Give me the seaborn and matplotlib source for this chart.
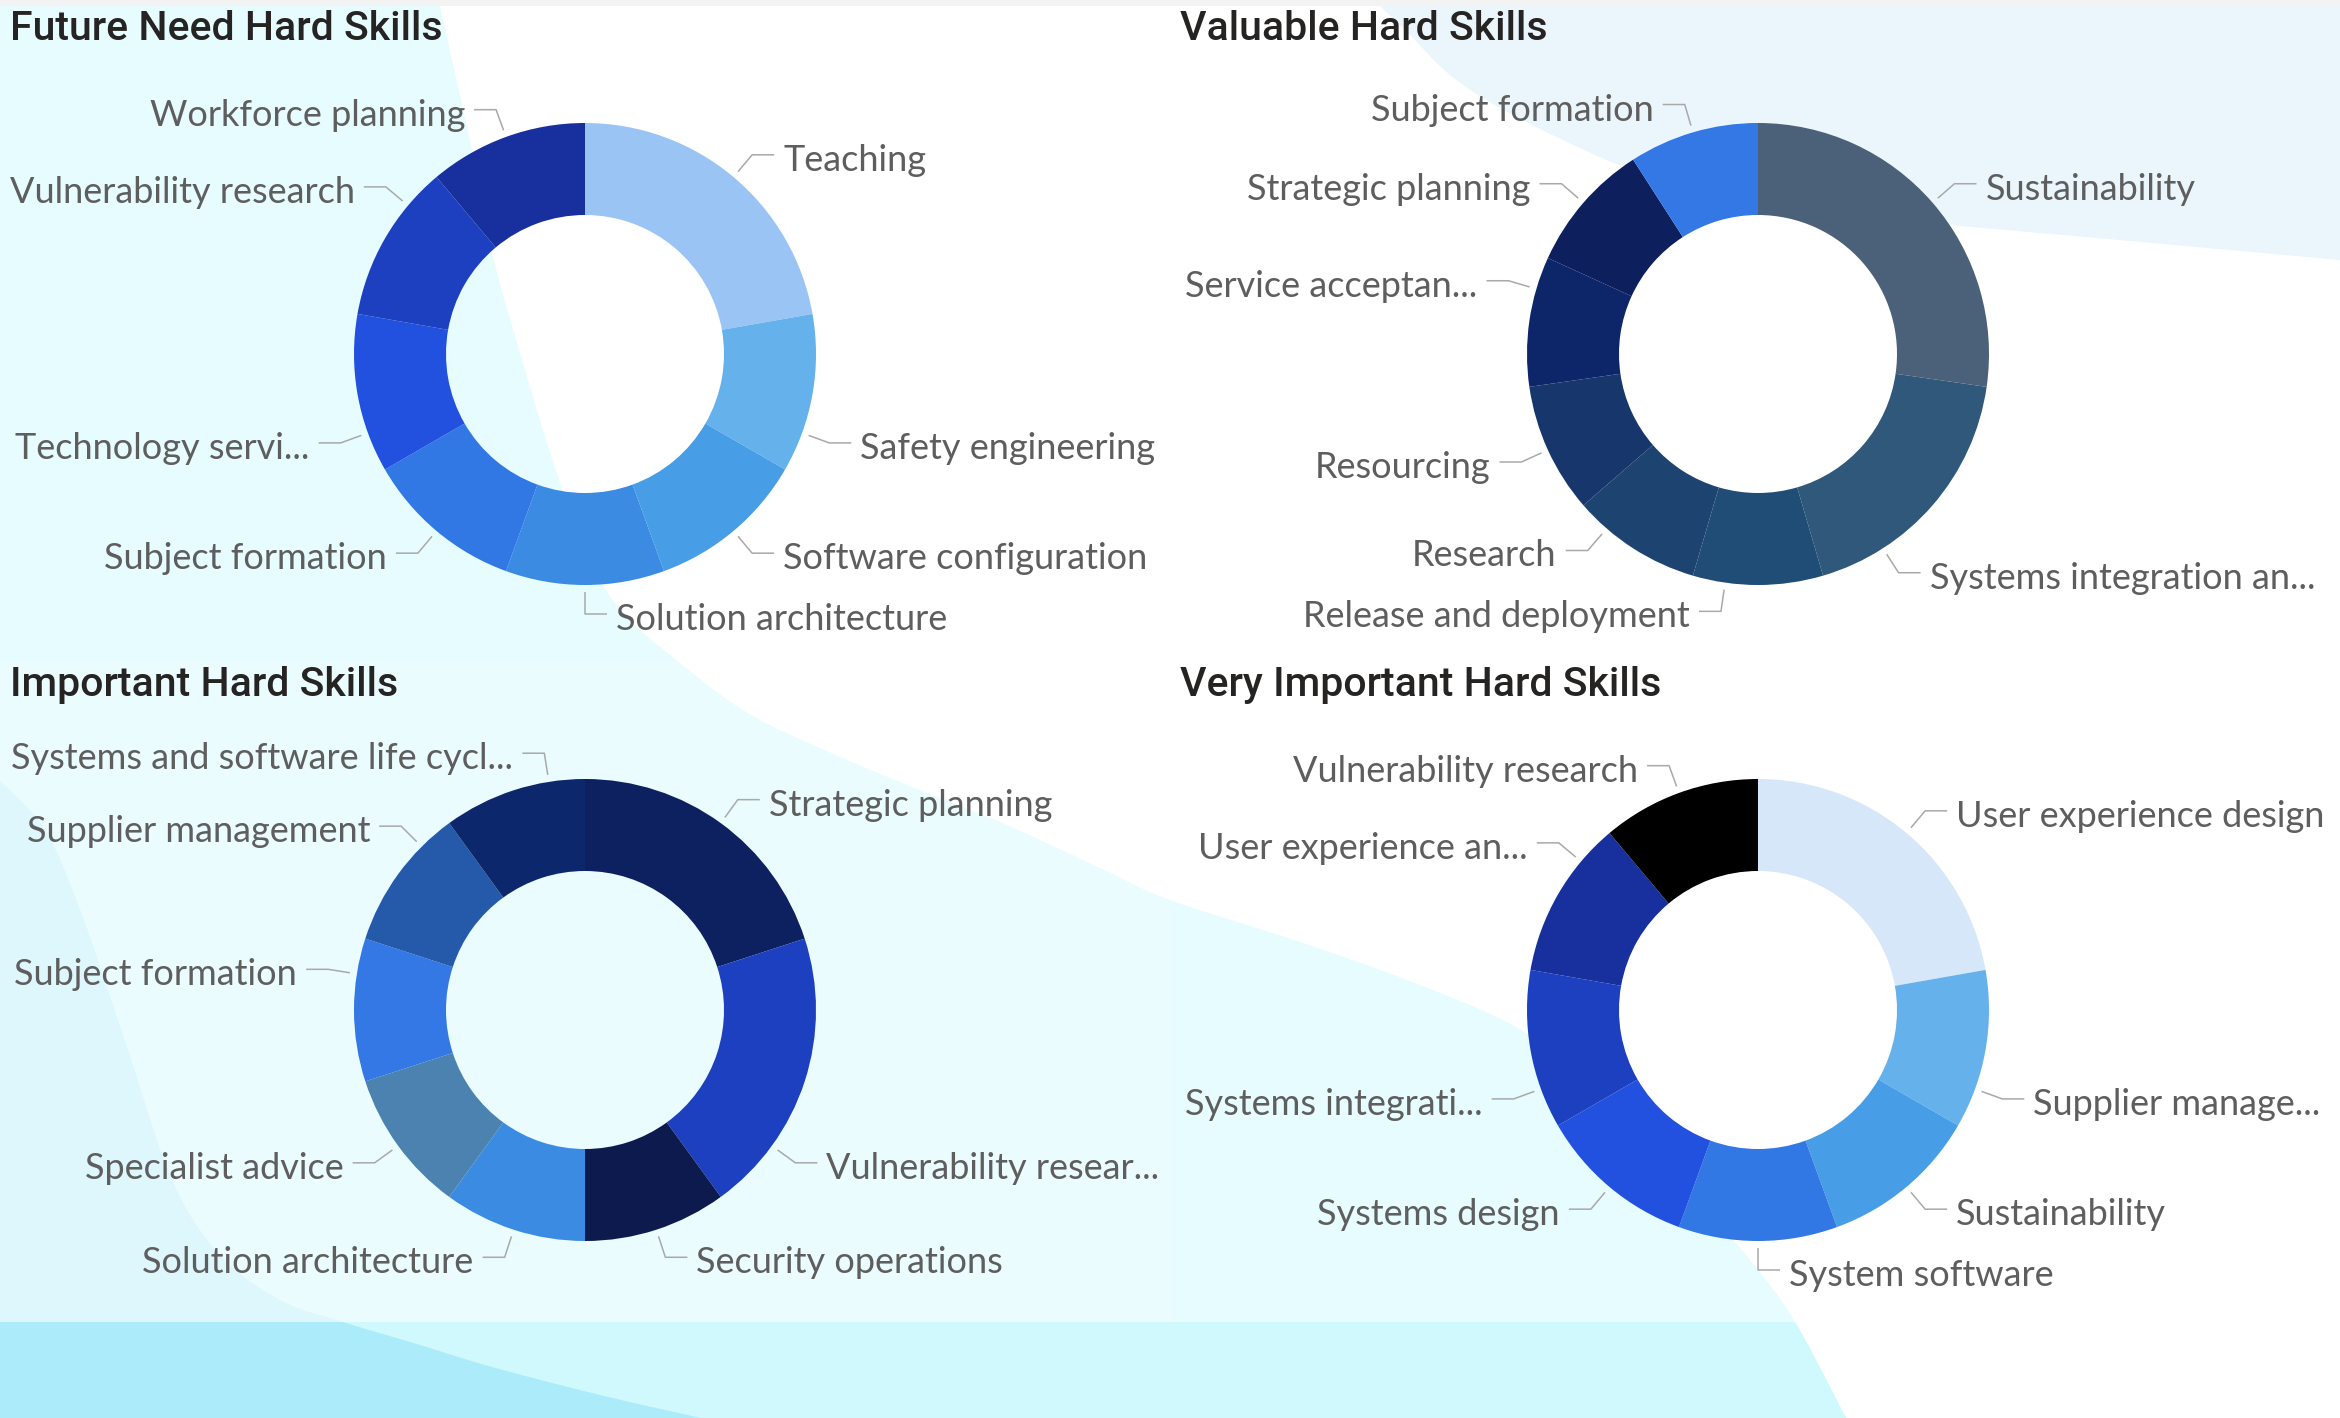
import matplotlib
matplotlib.use("Agg")
import matplotlib.pyplot as plt
import numpy as np
import seaborn as sns
from matplotlib.patches import Polygon, Rectangle

W, H = 2340, 1418

# ---------------- data ----------------
future_title = "Future Need Hard Skills"
future_labels = ["Teaching", "Safety engineering", "Software configuration",
                 "Solution architecture", "Subject formation", "Technology servi...",
                 "Vulnerability research", "Workforce planning"]
future_values = [2, 1, 1, 1, 1, 1, 1, 1]

valuable_title = "Valuable Hard Skills"
valuable_labels = ["Sustainability", "Systems integration an...", "Release and deployment",
                   "Research", "Resourcing", "Service acceptan...",
                   "Strategic planning", "Subject formation"]
valuable_values = [3, 2, 1, 1, 1, 1, 1, 1]

important_title = "Important Hard Skills"
important_labels = ["Strategic planning", "Vulnerability resear...", "Security operations",
                    "Solution architecture", "Specialist advice", "Subject formation",
                    "Supplier management", "Systems and software life cycl..."]
important_values = [2, 2, 1, 1, 1, 1, 1, 1]

very_title = "Very Important Hard Skills"
very_labels = ["User experience design", "Supplier manage...", "Sustainability",
               "System software", "Systems design", "Systems integrati...",
               "User experience an...", "Vulnerability research"]
very_values = [2, 1, 1, 1, 1, 1, 1, 1]

# ---------------- style ----------------
future_colors = ["#99C4F4", "#65B1EC", "#479DE6", "#3C8BE3", "#3278E4", "#2250DF", "#1C40BF", "#17309E"]
valuable_colors = ["#4B6079", "#30587A", "#1F4D75", "#1D4470", "#17376C", "#0D266A", "#0D1F5D", "#3378E4"]
important_colors = ["#0D2060", "#1C40BF", "#0D1A4E", "#3C8BE3", "#4B82B0", "#3378E4", "#2559AA", "#0D276C"]
very_colors = ["#D6E7F9", "#65B1EC", "#479DE6", "#3278E4", "#2250DF", "#1C40BF", "#17309E", "#000000"]

R, R_IN = 231, 139
R_START, R_ELBOW = 238, 260
LEAD, GAP, MARGIN, MIN_GAP = 22, 9, 13, 50
LABEL_PT = 26
LABEL_C = "#5E5E5E"
LINE_C = "#A9A9A9"

sns.set_theme(style="white")
plt.rcParams["font.family"] = ["Lato", "DejaVu Sans"]

fig = plt.figure(figsize=(W / 100, H / 100), dpi=100)
ax = fig.add_axes([0, 0, 1, 1])
ax.set_xlim(0, W)
ax.set_ylim(H, 0)
ax.axis("off")


def smooth(pts, n=24):
    p = np.asarray(pts, float)
    p = np.vstack([p[0], p, p[-1]])
    out = []
    t = np.linspace(0, 1, n, endpoint=False)[:, None]
    for i in range(1, len(p) - 2):
        p0, p1, p2, p3 = p[i - 1], p[i], p[i + 1], p[i + 2]
        out.append(0.5 * (2 * p1 + (-p0 + p2) * t + (2 * p0 - 5 * p1 + 4 * p2 - p3) * t ** 2
                          + (-p0 + 3 * p1 - 3 * p2 + p3) * t ** 3))
    out.append(p[-2][None])
    return np.vstack(out)


# ---------------- background ----------------
pale = smooth([(1380, 6), (1410, 35), (1450, 75), (1500, 108), (1582, 149), (1641, 172),
               (1758, 201), (1850, 214), (1940, 224), (2119, 240), (2340, 260)])
ax.add_patch(Polygon(np.vstack([pale, [(2340, 6)]]), closed=True, fc="#EAF6FC", ec="none", zorder=0))

s_curve = smooth([(440, 6), (452, 60), (472, 150), (492, 253), (525, 370), (560, 483), (595, 570),
                  (625, 615), (670, 655), (746, 712), (829, 752), (912, 787), (1000, 822),
                  (1100, 868), (1170, 900), (1300, 942), (1420, 985), (1521, 1030), (1600, 1090),
                  (1680, 1180), (1750, 1260), (1795, 1322), (1846, 1418)])
cyan = Polygon(np.vstack([s_curve, [(0, 1418), (0, 6)]]), closed=True, fc="#E6FCFE", ec="none", zorder=0.1)
ax.add_patch(cyan)

blob_pts = smooth([(0, 781), (45, 830), (82, 915), (127, 1047), (172, 1180), (220, 1255),
                   (280, 1300), (343, 1322), (420, 1345), (492, 1367), (600, 1395), (701, 1418)])
blob = Polygon(np.vstack([blob_pts, [(0, 1418)]]), closed=True, fc="#D6F6FD", ec="none", zorder=0.2)
ax.add_patch(blob)

band = Rectangle((0, 1322), W, H - 1322, fc="#CFF9FC", ec="none", zorder=0.3)
ax.add_patch(band)
band.set_clip_path(cyan)
band_dark = Rectangle((0, 1322), W, H - 1322, fc="#ABEBFA", ec="none", zorder=0.4)
ax.add_patch(band_dark)
band_dark.set_clip_path(blob)

ax.add_patch(Rectangle((0, 662), 1171, 660, fc="white", alpha=0.18, ec="none", zorder=0.5))
ax.add_patch(Rectangle((0, 0), W, 6, fc="#F3F3F3", ec="none", zorder=0.6))

# ---------------- donuts ----------------
renderer = fig.canvas.get_renderer()


def donut(cx, cy, x0, x1, title, labels, values, colors):
    ax.pie(values, colors=colors, startangle=-90, counterclock=True, radius=R,
           center=(cx, cy), frame=True,
           wedgeprops=dict(width=R - R_IN, linewidth=0, edgecolor="none"))
    ax.text(x0 + 10, cy - 314, title, fontsize=29.5, family=["Roboto", "DejaVu Sans"],
            fontweight="medium", color="#252423", ha="left", va="baseline")

    edges = np.concatenate([[0], np.cumsum(values)]) / np.sum(values) * 360
    placed = {"left": [], "right": []}
    for i, lab in enumerate(labels):
        t = ax.text(0, 0, lab, fontsize=LABEL_PT, color=LABEL_C)
        w = t.get_window_extent(renderer).width
        a0, a1 = edges[i], edges[i + 1]
        best = None
        # try the middle of the slice first, then three quarters, then one quarter
        for f in (0.5, 0.75, 0.25):
            a = a0 + f * (a1 - a0)
            side = "right" if a <= 180 else "left"
            ex = cx + R_ELBOW * np.sin(np.radians(a))
            ey = cy - R_ELBOW * np.cos(np.radians(a))
            if side == "right":
                tx = ex + LEAD + GAP
                slack = (x1 - MARGIN) - (tx + w)
            else:
                tx = ex - LEAD - GAP
                slack = (tx - w) - (x0 + MARGIN)
            clash = any(abs(ey - y) < MIN_GAP for y in placed[side])
            cand = (a, side, ex, ey, tx, slack)
            if not clash and slack >= 0:
                best = cand
                break
            if not clash and (best is None or slack > best[5]):
                best = cand
        if best is None:
            a = a0 + 0.5 * (a1 - a0)
            side = "right" if a <= 180 else "left"
            ex = cx + R_ELBOW * np.sin(np.radians(a))
            ey = cy - R_ELBOW * np.cos(np.radians(a))
            tx = ex + (LEAD + GAP) * (1 if side == "right" else -1)
            best = (a, side, ex, ey, tx, 0)
        a, side, ex, ey, tx, _ = best
        placed[side].append(ey)
        sx = cx + R_START * np.sin(np.radians(a))
        sy = cy - R_START * np.cos(np.radians(a))
        hx = ex + LEAD * (1 if side == "right" else -1)
        ax.plot([sx, ex, hx], [sy, ey, ey], color=LINE_C, lw=1.1, zorder=3,
                solid_capstyle="butt")
        t.set_position((tx, ey + 16))
        t.set_ha("left" if side == "right" else "right")
        t.set_va("baseline")
        t.set_zorder(4)


donut(585, 354, 0, 1170, future_title, future_labels, future_values, future_colors)
donut(1758, 354, 1170, 2340, valuable_title, valuable_labels, valuable_values, valuable_colors)
donut(585, 1010, 0, 1170, important_title, important_labels, important_values, important_colors)
donut(1758, 1010, 1170, 2340, very_title, very_labels, very_values, very_colors)

ax.set_aspect("auto")
ax.set_xlim(0, W)
ax.set_ylim(H, 0)
ax.set_position([0, 0, 1, 1])
ax.axis("off")

fig.savefig("out.png", dpi=100)
